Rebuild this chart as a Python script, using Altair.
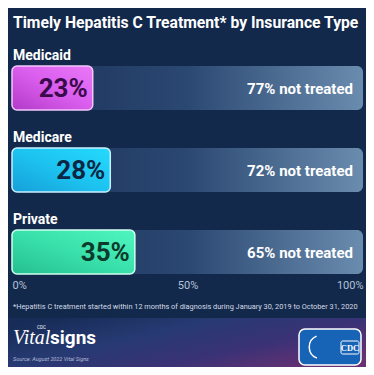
import altair as alt
import pandas as pd

# ---------------- data ----------------
categories = ["Medicaid", "Medicare", "Private"]
treated = [23, 28, 35]
not_treated = [77, 72, 65]
tick_values = [0, 50, 100]
tick_labels = ["0%", "50%", "100%"]
title_text = "Timely Hepatitis C Treatment* by Insurance Type"
footnote_text = ("*Hepatitis C treatment started within 12 months of diagnosis "
                 "during January 30, 2019 to October 31, 2020")
source_text = "Source: August 2022 Vital Signs"

df = pd.DataFrame({"category": categories, "treated": treated, "not_treated": not_treated})
df["total"] = df["treated"] + df["not_treated"]
df["start"] = 0
df["treated_label"] = [f"{v}%" for v in treated]
df["rest_label"] = [f"{v}% not treated" for v in not_treated]

# ---------------- styles ----------------
FONT = "Roboto"
BG = "#13294b"
fill_stops = {
    "Medicaid": ["#b23ac9", "#d95ded", "#e978f8"],
    "Medicare": ["#169fd9", "#1dc3f0", "#25dafc"],
    "Private": ["#25bf8f", "#39e0aa", "#50f6bf"],
}
stroke_colors = {"Medicaid": "#f3c6fb", "Medicare": "#c8f1ff", "Private": "#cffff0"}
value_text_colors = ["#3a0a4b", "#0b2743", "#0c3b2d"]


def grad(stops, x1=0, y1=1, x2=1, y2=0):
    n = len(stops) - 1
    return alt.LinearGradient(
        gradient="linear",
        stops=[alt.GradientStop(offset=i / n, color=c) for i, c in enumerate(stops)],
        x1=x1, y1=y1, x2=x2, y2=y2,
    )


label_expr = "{" + ",".join(f"'{v}':'{l}'" for v, l in zip(tick_values, tick_labels)) + "}[datum.value]"

xscale = alt.Scale(domain=[0, 100], nice=False, zero=True)
yenc = alt.Y("category:N", sort=categories,
             scale=alt.Scale(range=[39, 285], paddingInner=0, paddingOuter=0), axis=None)

base = alt.Chart(df)

back = base.mark_bar(size=44, cornerRadius=6,
                     color=grad(["#1a3158", "#2b4872", "#6a8cae"], x1=0, y1=0, x2=1, y2=0)).encode(
    x=alt.X("start:Q", scale=xscale,
            axis=alt.Axis(values=tick_values, labelExpr=label_expr, orient="bottom",
                          domain=False, ticks=False, grid=False, labelFlush=True,
                          labelColor="#b3c2d8", labelFontSize=11, labelFont=FONT,
                          labelPadding=8, labelBaseline="alphabetic", title=None)),
    x2="total:Q",
    y=yenc,
)

fills = []
for c in categories:
    fills.append(
        base.transform_filter(alt.datum.category == c).mark_bar(
            size=44, cornerRadius=5, color=grad(fill_stops[c]),
            stroke=stroke_colors[c], strokeWidth=1.5,
        ).encode(x="start:Q", x2="treated:Q", y=yenc)
    )

cat_labels = base.mark_text(align="left", baseline="alphabetic", dx=1, dy=-28.5,
                            font=FONT, fontSize=14, fontWeight="bold", color="white").encode(
    x="start:Q", y=yenc, text="category:N")

val_labels = base.mark_text(align="right", baseline="middle", dx=-5, dy=1,
                            font=FONT, fontSize=26, fontWeight="bold").encode(
    x="treated:Q", y=yenc, text="treated_label:N",
    color=alt.Color("category:N", scale=alt.Scale(domain=categories, range=value_text_colors),
                    legend=None))

rest_labels = base.mark_text(align="right", baseline="middle", dx=-10, dy=1,
                             font=FONT, fontSize=15, fontWeight="bold", color="white").encode(
    x="total:Q", y=yenc, text="rest_label:N")

one = pd.DataFrame({"k": [0]})
deco = alt.Chart(one)

title = deco.mark_text(align="left", baseline="alphabetic", font=FONT, fontSize=15.7,
                       fontWeight="bold", color="white").encode(
    x=alt.value(1), y=alt.value(20), text=alt.value(title_text))

footnote = deco.mark_text(align="left", baseline="alphabetic", font=FONT, fontSize=7.35,
                          color="#d3dbe6").encode(
    x=alt.value(1), y=alt.value(301), text=alt.value(footnote_text))

footer = deco.mark_rect(color=grad(["#172c57", "#263a72", "#3a3276", "#6a3072"],
                                   x1=0, y1=0.2, x2=1, y2=0.8)).encode(
    x=alt.value(-4), x2=alt.value(354), y=alt.value(310), y2=alt.value(359))

vital = deco.mark_text(align="left", baseline="alphabetic", font="Liberation Serif",
                       fontStyle="italic", fontSize=20, color="white").encode(
    x=alt.value(1), y=alt.value(336), text=alt.value("Vital"))
signs = deco.mark_text(align="left", baseline="alphabetic", font="Roboto",
                       fontWeight="bold", fontSize=19, color="white").encode(
    x=alt.value(38), y=alt.value(336), text=alt.value("signs"))
cdc_small = deco.mark_text(align="left", baseline="alphabetic", font="Roboto",
                           fontSize=4.5, color="white").encode(
    x=alt.value(25), y=alt.value(321), text=alt.value("CDC"))
source = deco.mark_text(align="left", baseline="alphabetic", font=FONT, fontStyle="italic",
                        fontSize=5.5, color="#b5bdd3").encode(
    x=alt.value(1), y=alt.value(353), text=alt.value(source_text))

logo_box = deco.mark_rect(cornerRadius=6, color="#1763b6", stroke="white", strokeWidth=1.5).encode(
    x=alt.value(287), x2=alt.value(349), y=alt.value(321), y2=alt.value(357))
logo_arc = deco.mark_arc(color="white").encode(
    x=alt.value(309), y=alt.value(339), radius=alt.value(12.5), radius2=alt.value(11),
    theta=alt.value(3.5), theta2=alt.value(5.9))
cdc_box = deco.mark_rect(cornerRadius=1.5, color="#1763b6", stroke="white", strokeWidth=1).encode(
    x=alt.value(329), x2=alt.value(347), y=alt.value(333), y2=alt.value(346))
cdc_text = deco.mark_text(align="center", baseline="middle", font="Liberation Serif",
                          fontWeight="bold", fontSize=8.5, color="white").encode(
    x=alt.value(338), y=alt.value(340), text=alt.value("CDC"))

chart = alt.layer(
    footer, back, *fills, cat_labels, val_labels, rest_labels, title, footnote,
    vital, signs, cdc_small, source, logo_box, logo_arc, cdc_box, cdc_text,
).properties(
    width=351, height=272, autosize="none",
    padding={"left": 4, "top": 0, "right": 3, "bottom": 87},
    background=BG,
).configure_view(stroke=None)

chart.save("out.html", embed_options={"renderer": "svg", "actions": False})
